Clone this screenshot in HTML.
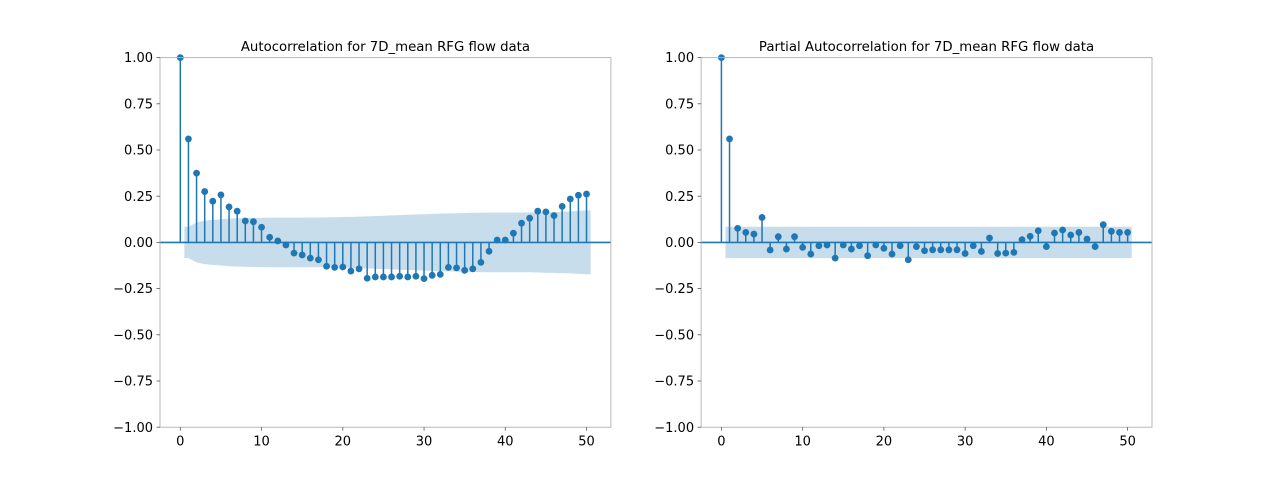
<!DOCTYPE html>
<html><head><meta charset="utf-8"><style>
html,body{margin:0;padding:0;background:#fff;}
svg{display:block;font-family:"DejaVu Sans","Liberation Sans",sans-serif;}
</style></head><body>
<svg id="fig" width="1280" height="480" viewBox="0 0 1280 480" xmlns="http://www.w3.org/2000/svg"></svg>
<script>
const lags = Array.from({length:51},(_,i)=>i);
const acfValues = [1.0,0.56,0.375,0.275,0.223,0.257,0.192,0.169,0.116,0.112,0.082,0.028,0.008,-0.014,-0.058,-0.068,-0.085,-0.094,-0.129,-0.135,-0.133,-0.155,-0.143,-0.194,-0.187,-0.187,-0.187,-0.183,-0.187,-0.183,-0.196,-0.178,-0.173,-0.135,-0.138,-0.151,-0.143,-0.108,-0.048,0.013,0.013,0.05,0.104,0.131,0.169,0.165,0.145,0.195,0.235,0.255,0.262];
const pacfValues = [1.0,0.56,0.076,0.054,0.045,0.135,-0.041,0.031,-0.036,0.031,-0.027,-0.063,-0.018,-0.014,-0.085,-0.014,-0.036,-0.018,-0.072,-0.014,-0.032,-0.063,-0.018,-0.094,-0.023,-0.045,-0.04,-0.04,-0.04,-0.04,-0.06,-0.018,-0.049,0.024,-0.06,-0.058,-0.054,0.015,0.033,0.063,-0.023,0.051,0.067,0.04,0.054,0.018,-0.023,0.096,0.06,0.054,0.054];
const yTicks = [-1.0,-0.75,-0.5,-0.25,0.0,0.25,0.5,0.75,1.0];
const xTicks = [0,10,20,30,40,50];
const nObs = 532;
const titles = ["Autocorrelation for 7D_mean RFG flow data","Partial Autocorrelation for 7D_mean RFG flow data"];

const NS="http://www.w3.org/2000/svg";
const svg=document.getElementById('fig');
function mk(tag,attrs,parent){const e=document.createElementNS(NS,tag);for(const k in attrs)e.setAttribute(k,attrs[k]);(parent||svg).appendChild(e);return e;}
const C="#1f77b4";
const fmt=v=>(v<0?"\u2212":"")+Math.abs(v).toFixed(2);

function drawPanel(x0,vals,band,title,key){
  const W=450.9,top=57.6,bot=427.2;
  const xs=v=>x0+(v+2.5)/55.5*W;
  const ys=v=>top+(1-v)/2*(bot-top);
  const g=mk('g',{});
  
  
  let up=[],lo=[];
  for(let k=1;k<=50;k++){
    if(k===1){up.push([xs(0.5),ys(band[1])]);lo.push([xs(0.5),ys(-band[1])]);}
    up.push([xs(k),ys(band[k])]);lo.push([xs(k),ys(-band[k])]);
    if(k===50){up.push([xs(50.5),ys(band[50])]);lo.push([xs(50.5),ys(-band[50])]);}}
  const pts=up.concat(lo.reverse()).map(p=>p[0].toFixed(1)+","+p[1].toFixed(1)).join(" ");
  const b=mk('polygon',{points:pts,fill:C,'fill-opacity':0.25,stroke:'none'},g);
  
  
  const z=mk('line',{x1:x0,x2:x0+W,y1:ys(0),y2:ys(0),stroke:C,'stroke-width':1.6},g);
  
  
  lags.forEach((l,i)=>{
    const s=mk('line',{x1:xs(l),x2:xs(l),y1:ys(0),y2:ys(vals[i]),stroke:C,'stroke-width':1.5},g);
    
    
    const c=mk('circle',{cx:xs(l),cy:ys(vals[i]),r:3.4,fill:C},g);
    
    
  });
  const sp=mk('rect',{x:x0,y:top,width:W,height:bot-top,fill:'none',stroke:'#b0b0b0','stroke-width':0.9},g);
  
  
  yTicks.forEach(v=>{
    mk('line',{x1:x0-3.5,x2:x0,y1:ys(v),y2:ys(v),stroke:'#555','stroke-width':0.8},g);
    const t=mk('text',{x:x0-7,y:ys(v)+4.6,'text-anchor':'end','font-size':13,fill:'#000'},g);
    t.textContent=fmt(v);
    
    
  });
  xTicks.forEach(v=>{
    mk('line',{x1:xs(v),x2:xs(v),y1:bot,y2:bot+3.5,stroke:'#555','stroke-width':0.8},g);
    const t=mk('text',{x:xs(v),y:bot+18.5,'text-anchor':'middle','font-size':13,fill:'#000'},g);
    t.textContent=v;
    
    
  });
  const tt=mk('text',{x:x0+W/2,y:51,'text-anchor':'middle','font-size':13.3,fill:'#000'},g);
  tt.textContent=title;
  
  
}
const acfBand=[0];let cum=0;
for(let k=1;k<=50;k++){acfBand.push(1.96*Math.sqrt((1+2*cum)/nObs));cum+=acfValues[k]*acfValues[k];}
const pacfBand=lags.map(()=>1.96/Math.sqrt(nObs));
drawPanel(160,acfValues,acfBand,titles[0],'acf');
drawPanel(701.1,pacfValues,pacfBand,titles[1],'pacf');
</script>
</body></html>
